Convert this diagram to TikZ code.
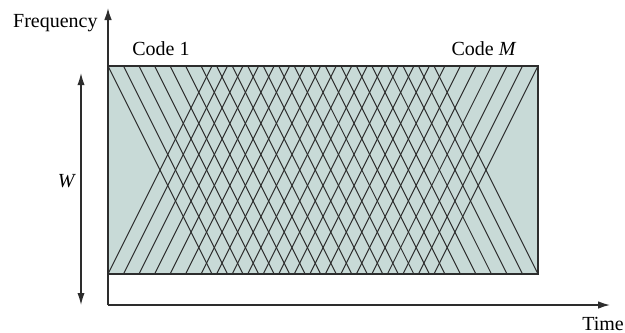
\documentclass[tikz,border=0pt]{standalone}
\usepackage{fontspec}
\setmainfont{Liberation Serif}
\usepackage{tikz}
\usetikzlibrary{arrows.meta}

\definecolor{bandfill}{RGB}{200,218,215}
\definecolor{inkgray}{RGB}{45,45,45}

\tikzset{
    chirp/.style={inkgray, line width=0.5pt},
    bandedge/.style={inkgray, line width=0.9pt},
    axisline/.style={inkgray, line width=0.7pt, -{Latex[length=6pt,width=3.8pt]}},
    spanline/.style={inkgray, line width=0.6pt, {Latex[length=6pt,width=3.6pt]}-{Latex[length=6pt,width=3.6pt]}},
}

\begin{document}
\begin{tikzpicture}[x=0.5pt, y=-0.5pt]
    \useasboundingbox (0,0) rectangle (625,332);

    % Band of width W
    \fill[bandfill] (108,66) rectangle (538,274);

    % Chirps, down and up
    \foreach \i in {0,...,21} {
        \pgfmathsetmacro{\xs}{108+326/21*\i}
        \draw[chirp] (\xs,66) -- ++(104,208);
        \draw[chirp] (\xs,274) -- ++(104,-208);
    }
    \draw[bandedge] (108,66) rectangle (538,274);

    % Axes
    \coordinate (origin) at (108,305);
    \coordinate (ftip) at (108,8);
    \coordinate (ttip) at (610,305);
    \draw[axisline] (origin) -- (ftip);
    \draw[axisline] (origin) -- (ttip);
    \node[anchor=base east, inner sep=0pt] (freq) at (98,27) {Frequency};
    \node[anchor=base, inner sep=0pt] (time) at (603,330) {Time};

    % Bandwidth
    \coordinate (wtop) at (81,73);
    \coordinate (wbot) at (81,305);
    \draw[spanline] (wtop) -- (wbot);
    \node[anchor=base, inner sep=0pt] (wlabel) at (67,187) {\textit{W}};

    % Code labels
    \node[anchor=base, inner sep=0pt] (codeone) at (161,55) {Code 1};
    \node[anchor=base, inner sep=0pt] (codem) at (484,55) {Code \textit{M}};
\end{tikzpicture}
\end{document}
